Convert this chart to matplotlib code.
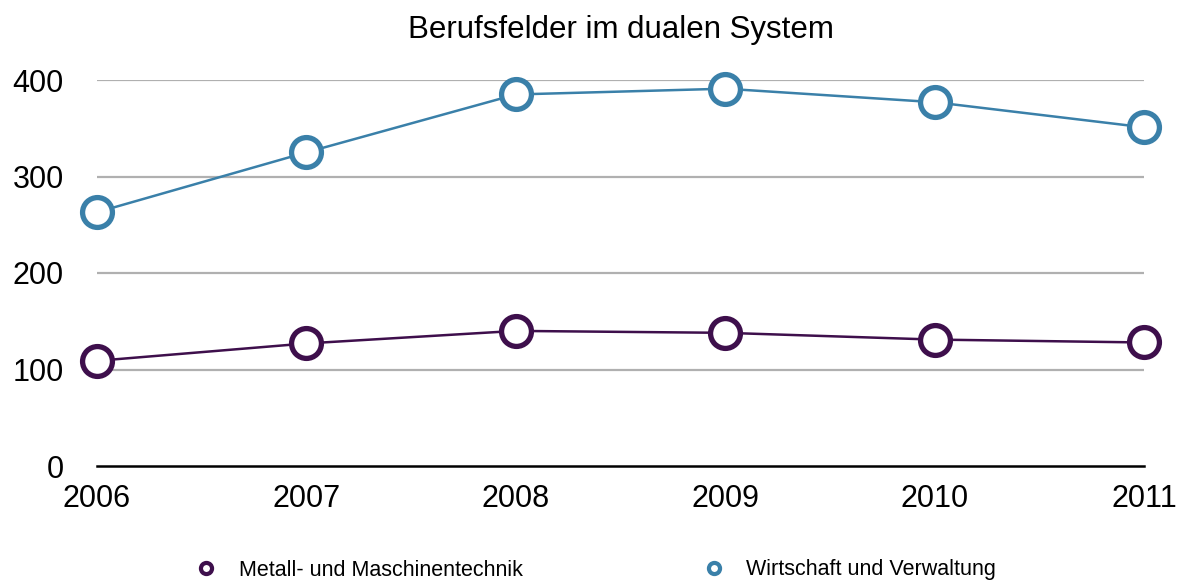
import matplotlib.pyplot as plt
from matplotlib.lines import Line2D

plt.rcParams['font.family'] = ['Liberation Sans', 'DejaVu Sans']

years = [2006, 2007, 2008, 2009, 2010, 2011]
metall = [109, 127, 140, 138, 131, 128]
wirtschaft = [263, 325, 385, 391, 377, 351]
y_ticks = [0, 100, 200, 300, 400]
labels = ['Metall- und Maschinentechnik', 'Wirtschaft und Verwaltung']

c_metall = '#3e0f4c'
c_wirt = '#3a80a9'

fig = plt.figure(figsize=(11.81, 5.84), dpi=100)
ax = fig.add_axes([97 / 1181, 1 - 466 / 584, (1144 - 97) / 1181, (466 - 80) / 584])

for v in y_ticks[1:]:
    ax.axhline(v, color='#b0b0b0', lw=1.6, zorder=1)
ax.axhline(0, color='black', lw=1.8, zorder=2, clip_on=False)

ax.plot(years, metall, color=c_metall, lw=1.8, marker='o', ms=21.5, mfc='white',
        mec=c_metall, mew=3.8, clip_on=False, zorder=3)
ax.plot(years, wirtschaft, color=c_wirt, lw=1.8, marker='o', ms=21.5, mfc='white',
        mec=c_wirt, mew=3.8, clip_on=False, zorder=3)

ax.set_xlim(2006, 2011)
ax.set_ylim(0, 400)
ax.set_yticks(y_ticks)
ax.set_xticks(years)
ax.tick_params(length=0, labelsize=22)
ax.tick_params(axis='y', pad=24)
ax.tick_params(axis='x', pad=13)
for s in ax.spines.values():
    s.set_visible(False)

ax.set_title('Berufsfelder im dualen System', fontsize=22.5, pad=30)

h2 = [Line2D([], [], ls='none', marker='o', ms=8, mfc='white', mec=c, mew=3)
      for c in (c_metall, c_wirt)]
fig.legend(h2, labels, loc='center', bbox_to_anchor=(0.5, 1 - 570 / 584), ncol=2,
           frameon=False, fontsize=15.5, columnspacing=7.9, handletextpad=0.5)

fig.savefig('out.png', dpi=100)
